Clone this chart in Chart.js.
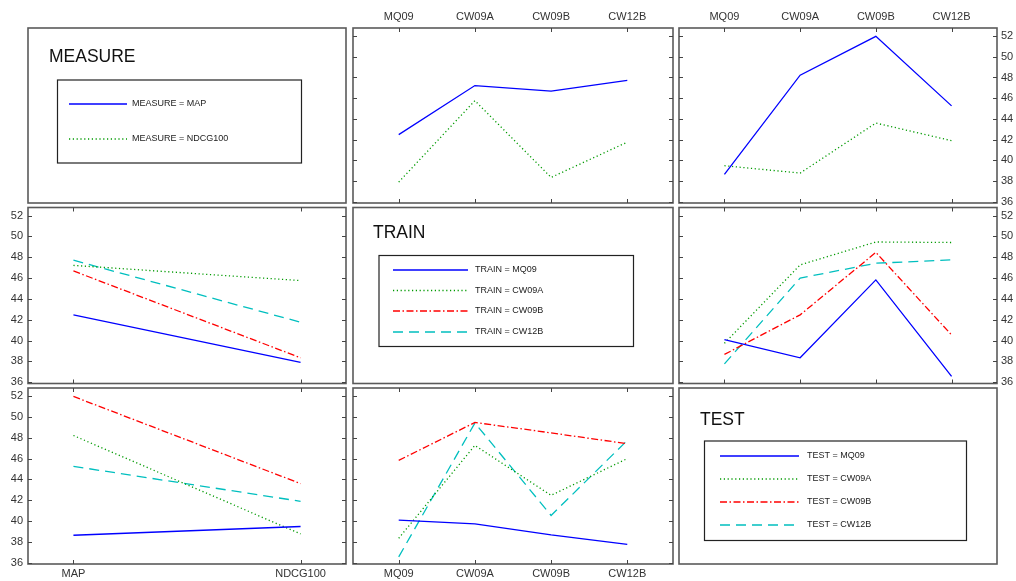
<!DOCTYPE html>
<html>
<head>
<meta charset="utf-8">
<script src="https://cdn.jsdelivr.net/npm/chart.js@4.4.1/dist/chart.umd.min.js"></script>
<style>
  body { margin: 0; background: #fff; }
  #wrap { position: relative; width: 1016px; height: 581px; }
  #wrap canvas { position: absolute; left: 0; top: 0; }
</style>
</head>
<body>
<div id="wrap"></div>
<script>
// factor levels
const measures = ['MAP', 'NDCG100'];
const collections = ['MQ09', 'CW09A', 'CW09B', 'CW12B'];
const yTicks = [36, 38, 40, 42, 44, 46, 48, 50, 52];

// MEASURE x TRAIN means (TRAIN order as collections)
const mapByTrain  = [42.48, 47.22, 46.69, 47.72];
const ndcgByTrain = [37.90, 45.76, 38.35, 41.76];

// MEASURE x TEST means
const mapByTest  = [38.64, 48.22, 51.97, 45.26];
const ndcgByTest = [39.48, 38.77, 43.60, 41.90];

// TRAIN x TEST means, one array per TRAIN collection (values over TEST)
const mq09ByTest  = [40.09, 38.35, 45.83, 36.56];
const cw09aByTest = [39.74, 47.27, 49.47, 49.42];
const cw09bByTest = [38.67, 42.47, 48.47, 40.54];
const cw12bByTest = [37.77, 46.00, 47.43, 47.75];
const trainByTest = [mq09ByTest, cw09aByTest, cw09bByTest, cw12bByTest];

const W = 1016, H = 581;
const cols = [[28, 346], [353, 673], [679, 997]];
const rows = [[28, 203], [207.5, 383.5], [388, 564]];
const Y_MIN = 35.88, Y_MAX = 52.78;
const FONT = "'Liberation Sans', Arial, Helvetica, sans-serif";

const lineStyles = [
  { color: '#0000ff', dash: [] },
  { color: '#009a00', dash: [1.2, 2.6] },
  { color: '#ff0000', dash: [7, 2.5, 1.5, 2.5] },
  { color: '#00bfbf', dash: [10, 6] }
];

function makeDatasets(factor, levels, seriesList) {
  return levels.map((lvl, i) => ({
    label: factor + ' = ' + lvl,
    data: (seriesList[i] || []).map((v, j) => ({ x: j + 1, y: v })),
    borderColor: lineStyles[i].color,
    borderDash: lineStyles[i].dash,
    borderWidth: 1.3,
    borderCapStyle: 'butt',
    pointRadius: 0,
    tension: 0,
    fill: false
  }));
}

// frame, inward ticks and the in-panel legend
const panelFrame = {
  id: 'panelFrame',
  afterDraw(chart, args, opts) {
    const ctx = chart.ctx, a = chart.chartArea;
    ctx.save();
    ctx.strokeStyle = '#5a5a5a';
    ctx.lineWidth = 1.6;
    ctx.strokeRect(a.left, a.top, a.right - a.left, a.bottom - a.top);

    if (opts.xCats) {
      const xs = chart.scales.x, ys = chart.scales.y;
      ctx.lineWidth = 1;
      ctx.strokeStyle = '#444';
      ctx.beginPath();
      opts.xCats.forEach((c, i) => {
        const px = Math.round(xs.getPixelForValue(i + 1)) + 0.5;
        ctx.moveTo(px, a.top); ctx.lineTo(px, a.top + 4);
        ctx.moveTo(px, a.bottom); ctx.lineTo(px, a.bottom - 4);
      });
      yTicks.forEach(v => {
        const py = Math.round(ys.getPixelForValue(v)) + 0.5;
        ctx.moveTo(a.left, py); ctx.lineTo(a.left + 4, py);
        ctx.moveTo(a.right, py); ctx.lineTo(a.right - 4, py);
      });
      ctx.stroke();
    }

    const lg = opts.legend;
    if (lg) {
      ctx.fillStyle = '#111';
      ctx.font = '17.5px ' + FONT;
      ctx.textBaseline = 'alphabetic';
      ctx.fillText(lg.title, lg.titleX, lg.titleY);

      ctx.strokeStyle = '#222';
      ctx.lineWidth = 1.2;
      ctx.strokeRect(lg.box[0], lg.box[1], lg.box[2] - lg.box[0], lg.box[3] - lg.box[1]);

      ctx.font = '9px ' + FONT;
      ctx.textBaseline = 'middle';
      chart.data.datasets.forEach((ds, i) => {
        const y = lg.rowsY[i];
        ctx.strokeStyle = ds.borderColor;
        ctx.lineWidth = ds.borderWidth;
        ctx.setLineDash(ds.borderDash);
        ctx.beginPath();
        ctx.moveTo(lg.lineX[0], y);
        ctx.lineTo(lg.lineX[1], y);
        ctx.stroke();
        ctx.setLineDash([]);
        ctx.fillStyle = '#222';
        ctx.fillText(ds.label, lg.textX, y);
      });
    }
    ctx.restore();
  }
};

function addPanel(r, c, cfg) {
  const canvas = document.createElement('canvas');
  canvas.width = W; canvas.height = H;
  document.getElementById('wrap').appendChild(canvas);

  const [l, rt] = cols[c];
  const [t, b] = rows[r];
  const axes = cfg.axes || {};
  const pad = { left: l, top: t, right: W - rt, bottom: H - b };
  const xPos = axes.top ? 'top' : 'bottom';
  const yPos = axes.right ? 'right' : 'left';
  const showX = !!(axes.top || axes.bottom);
  const showY = !!(axes.left || axes.right);
  if (showX) pad[xPos] = 0;
  if (showY) pad[yPos] = 0;

  const cats = cfg.xCats || [];
  const tickFont = { family: FONT, size: 11 };

  new Chart(canvas.getContext('2d'), {
    type: 'line',
    data: { datasets: cfg.datasets },
    options: {
      responsive: false,
      animation: false,
      events: [],
      layout: { padding: pad },
      plugins: {
        legend: { display: false },
        tooltip: { enabled: false },
        panelFrame: { xCats: cfg.xCats, legend: cfg.legend }
      },
      scales: {
        x: {
          type: 'linear',
          position: xPos,
          display: showX,
          min: cats.length === 2 ? 0.8 : 0.4,
          max: cats.length === 2 ? 2.2 : 4.6,
          grid: { display: false, drawTicks: false },
          border: { display: false },
          afterBuildTicks: s => { s.ticks = cats.map((cName, i) => ({ value: i + 1 })); },
          afterFit: s => { s.height = showX ? (xPos === 'top' ? t : H - b) : 0; },
          ticks: {
            padding: xPos === 'top' ? 4 : 3,
            maxRotation: 0,
            autoSkip: false,
            color: '#333',
            font: tickFont,
            callback: v => cats[v - 1]
          }
        },
        y: {
          type: 'linear',
          position: yPos,
          display: showY,
          min: Y_MIN,
          max: Y_MAX,
          grid: { display: false, drawTicks: false },
          border: { display: false },
          afterBuildTicks: s => { s.ticks = yTicks.map(v => ({ value: v })); },
          afterFit: s => { s.width = showY ? (yPos === 'left' ? l : W - rt) : 0; },
          ticks: {
            padding: yPos === 'left' ? 5 : 4,
            color: '#333',
            font: tickFont,
            callback: v => String(v)
          }
        }
      }
    },
    plugins: [panelFrame]
  });
}

// row 1: MEASURE
addPanel(0, 0, {
  datasets: makeDatasets('MEASURE', measures, []),
  legend: { title: 'MEASURE', titleX: 49, titleY: 62, box: [57.5, 80, 301.5, 163],
            lineX: [69, 127], rowsY: [104, 139], textX: 132 }
});
addPanel(0, 1, {
  xCats: collections, axes: { top: true },
  datasets: makeDatasets('MEASURE', measures, [mapByTrain, ndcgByTrain])
});
addPanel(0, 2, {
  xCats: collections, axes: { top: true, right: true },
  datasets: makeDatasets('MEASURE', measures, [mapByTest, ndcgByTest])
});

// row 2: TRAIN
addPanel(1, 0, {
  xCats: measures, axes: { left: true },
  datasets: makeDatasets('TRAIN', collections,
    collections.map((cName, i) => [mapByTrain[i], ndcgByTrain[i]]))
});
addPanel(1, 1, {
  datasets: makeDatasets('TRAIN', collections, []),
  legend: { title: 'TRAIN', titleX: 373, titleY: 238, box: [379, 255.5, 633.5, 346.5],
            lineX: [393, 468], rowsY: [270, 290.5, 311, 332], textX: 475 }
});
addPanel(1, 2, {
  xCats: collections, axes: { right: true },
  datasets: makeDatasets('TRAIN', collections, trainByTest)
});

// row 3: TEST
addPanel(2, 0, {
  xCats: measures, axes: { left: true, bottom: true },
  datasets: makeDatasets('TEST', collections,
    collections.map((cName, i) => [mapByTest[i], ndcgByTest[i]]))
});
addPanel(2, 1, {
  xCats: collections, axes: { bottom: true },
  datasets: makeDatasets('TEST', collections,
    collections.map((cName, s) => trainByTest.map(row => row[s])))
});
addPanel(2, 2, {
  datasets: makeDatasets('TEST', collections, []),
  legend: { title: 'TEST', titleX: 700, titleY: 425, box: [704.5, 441, 966.5, 540.5],
            lineX: [720, 799], rowsY: [456, 479, 502, 525], textX: 807 }
});
</script>
</body>
</html>
